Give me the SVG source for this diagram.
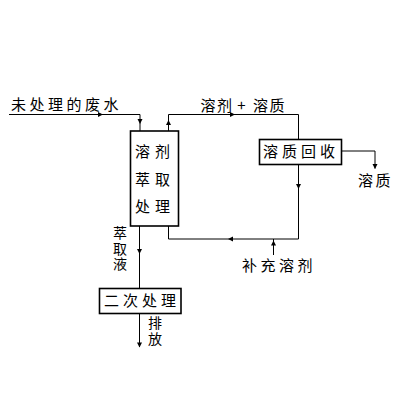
<svg xmlns="http://www.w3.org/2000/svg" width="404" height="404" viewBox="0 0 404 404">
<style>
text{font-family:"Noto Sans CJK SC","Noto Sans",sans-serif;font-size:15px;fill:#000}
.v{font-size:14px;writing-mode:vertical-rl}
.box{fill:#fff;stroke:#000;stroke-width:1.6}
.ln{fill:none;stroke:#000;stroke-width:1}
</style>
<defs>
<path id="ah" d="M0,0 L-5,-2.5 L-5,2.5 Z" fill="#000"/>
</defs>
<rect width="404" height="404" fill="#fff"/>
<g id="connectors">
<polyline class="ln" points="9,114.5 140,114.5 140,131"/>
<polyline class="ln" points="168.5,131 168.5,114.5 298.5,114.5 298.5,139.5"/>
<polyline class="ln" points="298.5,164.5 298.5,239 168.5,239 168.5,226"/>
<line class="ln" x1="273.5" y1="255" x2="273.5" y2="239"/>
<polyline class="ln" points="341.5,151 375,151 375,168.5"/>
<line class="ln" x1="139.5" y1="226" x2="139.5" y2="288.5"/>
<line class="ln" x1="139.5" y1="313.5" x2="139.5" y2="347"/>
<use href="#ah" transform="translate(103,114.5)"/>
<use href="#ah" transform="translate(140,124) rotate(90)"/>
<use href="#ah" transform="translate(168.5,120) rotate(-90)"/>
<use href="#ah" transform="translate(235,114.5)"/>
<use href="#ah" transform="translate(298.5,189) rotate(90)"/>
<use href="#ah" transform="translate(228,239) rotate(180)"/>
<use href="#ah" transform="translate(273.5,240.5) rotate(-90)"/>
<use href="#ah" transform="translate(375,169) rotate(90)"/>
<use href="#ah" transform="translate(139.5,254) rotate(90)"/>
<use href="#ah" transform="translate(139.5,347.5) rotate(90)"/>
</g>
<g id="input-label"><text x="11" y="110" letter-spacing="3.5">未处理的废水</text></g>
<g id="extraction">
<rect class="box" x="130.5" y="131" width="48" height="95"/>
<text x="135" y="157" letter-spacing="5">溶剂</text>
<text x="135" y="184.5" letter-spacing="5">萃取</text>
<text x="135" y="212" letter-spacing="5">处理</text>
</g>
<g id="solvent-solute-label">
<text x="200.5" y="111" letter-spacing="1.5">溶剂</text>
<text x="241.5" y="111" text-anchor="middle" font-size="12">+</text>
<text x="253" y="111" letter-spacing="1.5">溶质</text>
</g>
<g id="recovery">
<rect class="box" x="259.5" y="139.5" width="82" height="25"/>
<text x="263" y="157" letter-spacing="4">溶质回收</text>
</g>
<g id="solute-out"><text x="358" y="185.5" letter-spacing="2.5">溶质</text></g>
<g id="makeup"><text x="242" y="270.5" letter-spacing="3.5">补充溶剂</text></g>
<g id="extract-label">
<text class="v" x="120" y="226" letter-spacing="1.5">萃取液</text>
</g>
<g id="secondary">
<rect class="box" x="99.5" y="288.5" width="81.5" height="25"/>
<text x="104" y="305.5" letter-spacing="4">二次处理</text>
</g>
<g id="discharge">
<text class="v" x="155" y="316" letter-spacing="2">排放</text>
</g>
</svg>
